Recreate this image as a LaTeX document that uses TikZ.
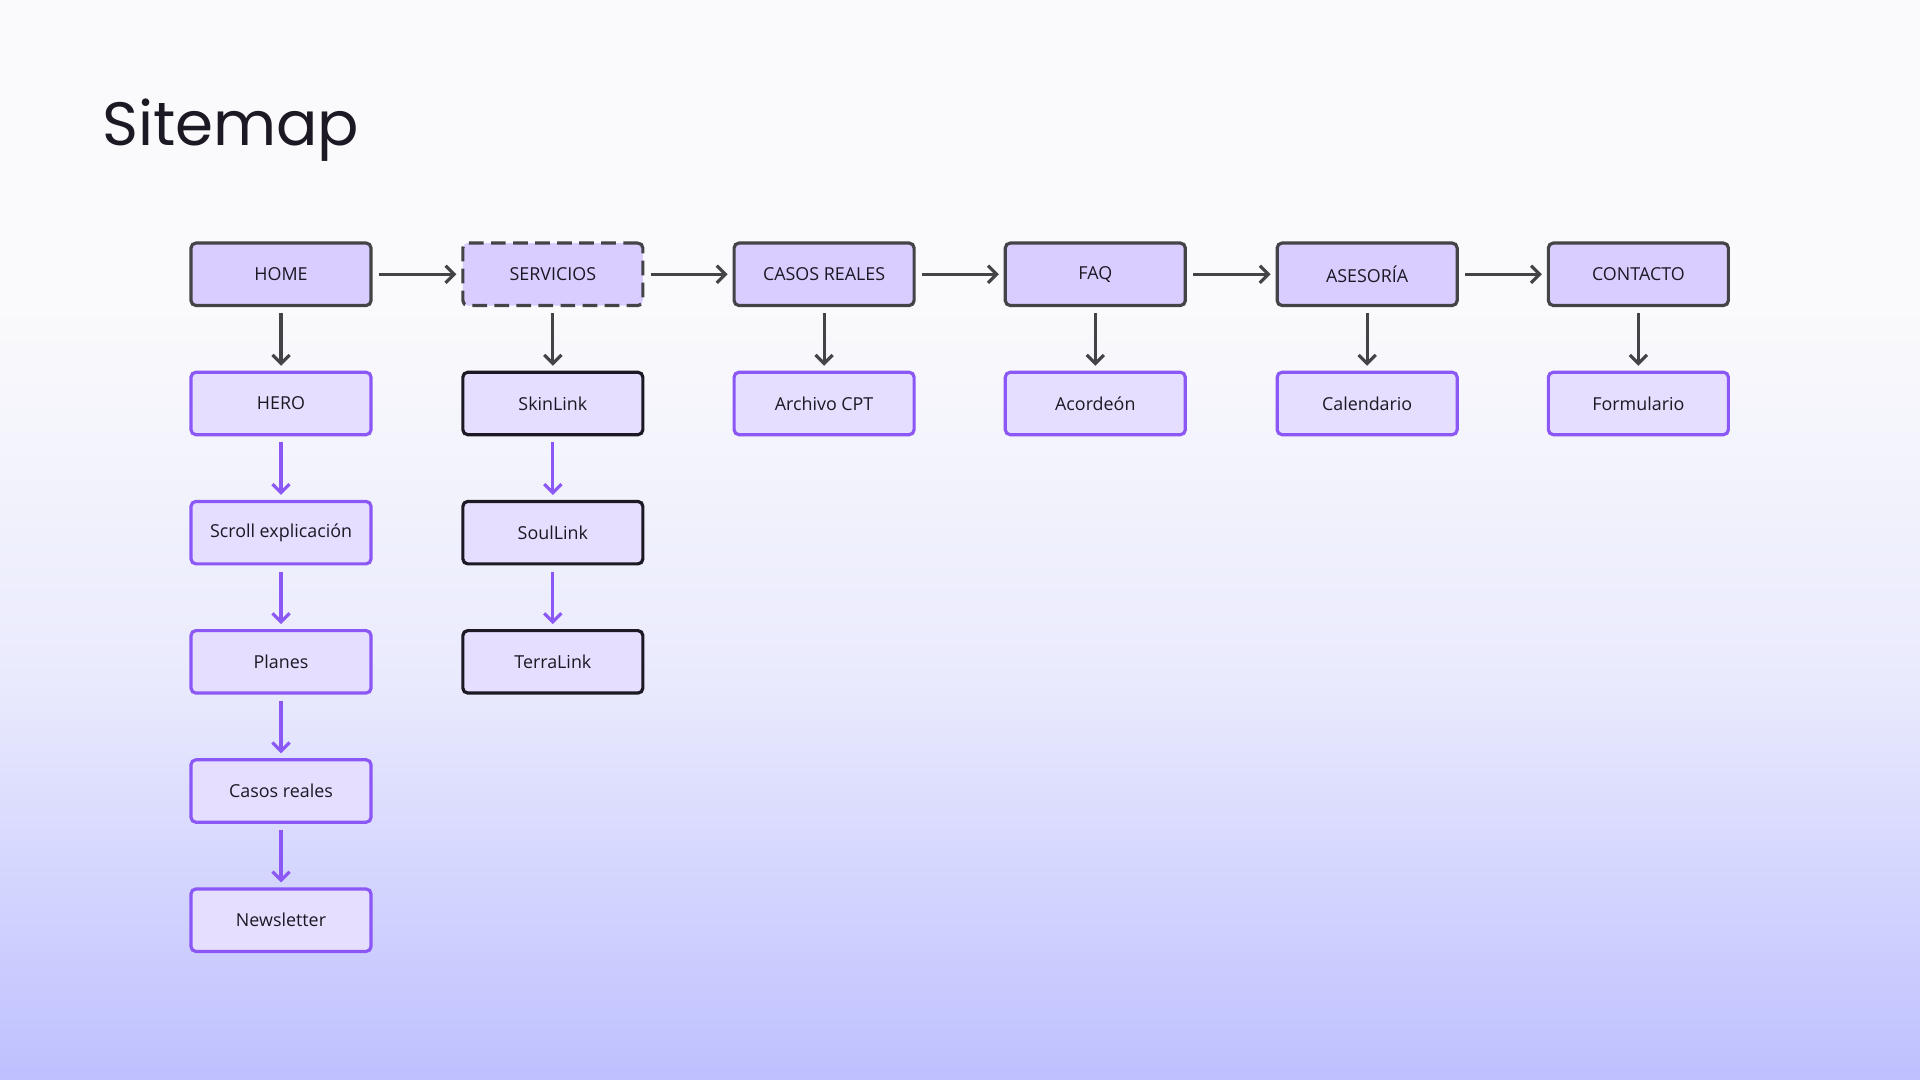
\documentclass[tikz,border=0pt]{standalone}
\usepackage{fontspec}
\setmainfont{Open Sans}
\newfontfamily\titlefont{Poppins}
\usetikzlibrary{positioning,arrows.meta,shadings}
\definecolor{pagetop}{RGB}{250,250,252}
\definecolor{pagebot}{RGB}{190,192,255}
\definecolor{mainfill}{RGB}{217,205,255}
\definecolor{subfill}{RGB}{230,222,255}
\definecolor{edgegray}{RGB}{68,68,72}
\definecolor{violet}{RGB}{139,88,246}
\definecolor{inkdark}{RGB}{28,24,36}

\begin{document}
\begin{tikzpicture}[x=1pt,y=-1pt,
    box/.style={rectangle, draw, line width=2.6pt, rounded corners=4pt, minimum width=147pt, minimum height=51pt, font=\fontsize{14.6}{16}\selectfont, text=inkdark},
    main/.style={box, draw=edgegray, fill=mainfill},
    sub/.style={box, draw=violet, fill=subfill},
    serv/.style={box, draw=inkdark, fill=subfill},
    link/.style={-{Straight Barb[length=7pt,width=14pt]}, line width=2.6pt},
    grayarr/.style={link, draw=edgegray},
    purparr/.style={link, draw=violet}]
    % background
    \useasboundingbox (0,0) rectangle (1568,882);
    \fill[pagetop] (0,0) rectangle (1568,250);
    \shade[top color=pagetop, bottom color=pagetop!72!pagebot] (0,249) rectangle (1568,560);
    \shade[top color=pagetop!72!pagebot, bottom color=pagebot] (0,559) rectangle (1568,882);

    \node[anchor=west, font=\titlefont\fontsize{50}{56}\selectfont, text=inkdark] (title) at (80,106) {Sitemap};

    % top row
    \node[main] (home) at (229.5,224) {HOME};
    \node[main, dashed, dash pattern=on 12pt off 6pt] (servicios) at (451.5,224) {SERVICIOS};
    \node[main] (casos) at (673,224) {CASOS REALES};
    \node[main] (faq) at (894.5,224) {FAQ};
    \node[main] (asesoria) at (1116.5,224) {ASESORÍA};
    \node[main] (contacto) at (1338,224) {CONTACTO};

    % home column
    \node[sub] (hero) at (229.5,329.5) {HERO};
    \node[sub] (scroll) at (229.5,435) {Scroll explicación};
    \node[sub] (planes) at (229.5,540.5) {Planes};
    \node[sub] (casosr) at (229.5,646) {Casos reales};
    \node[sub] (news) at (229.5,751.5) {Newsletter};

    % servicios column
    \node[serv] (skin) at (451.5,329.5) {SkinLink};
    \node[serv] (soul) at (451.5,435) {SoulLink};
    \node[serv] (terra) at (451.5,540.5) {TerraLink};

    % other children
    \node[sub] (archivo) at (673,329.5) {Archivo CPT};
    \node[sub] (acordeon) at (894.5,329.5) {Acordeón};
    \node[sub] (calendario) at (1116.5,329.5) {Calendario};
    \node[sub] (formulario) at (1338,329.5) {Formulario};

    \draw[grayarr] ([xshift=5pt]home.east) -- ([xshift=-4pt]servicios.west);
    \draw[grayarr] ([xshift=5pt]servicios.east) -- ([xshift=-4pt]casos.west);
    \draw[grayarr] ([xshift=5pt]casos.east) -- ([xshift=-4pt]faq.west);
    \draw[grayarr] ([xshift=5pt]faq.east) -- ([xshift=-4pt]asesoria.west);
    \draw[grayarr] ([xshift=5pt]asesoria.east) -- ([xshift=-4pt]contacto.west);

    \draw[grayarr] ([yshift=-5pt]home.south) -- ([yshift=4pt]hero.north);
    \draw[grayarr] ([yshift=-5pt]servicios.south) -- ([yshift=4pt]skin.north);
    \draw[grayarr] ([yshift=-5pt]casos.south) -- ([yshift=4pt]archivo.north);
    \draw[grayarr] ([yshift=-5pt]faq.south) -- ([yshift=4pt]acordeon.north);
    \draw[grayarr] ([yshift=-5pt]asesoria.south) -- ([yshift=4pt]calendario.north);
    \draw[grayarr] ([yshift=-5pt]contacto.south) -- ([yshift=4pt]formulario.north);

    \draw[purparr] ([yshift=-5pt]hero.south) -- ([yshift=4pt]scroll.north);
    \draw[purparr] ([yshift=-5pt]scroll.south) -- ([yshift=4pt]planes.north);
    \draw[purparr] ([yshift=-5pt]planes.south) -- ([yshift=4pt]casosr.north);
    \draw[purparr] ([yshift=-5pt]casosr.south) -- ([yshift=4pt]news.north);
    \draw[purparr] ([yshift=-5pt]skin.south) -- ([yshift=4pt]soul.north);
    \draw[purparr] ([yshift=-5pt]soul.south) -- ([yshift=4pt]terra.north);
\end{tikzpicture}
\end{document}
